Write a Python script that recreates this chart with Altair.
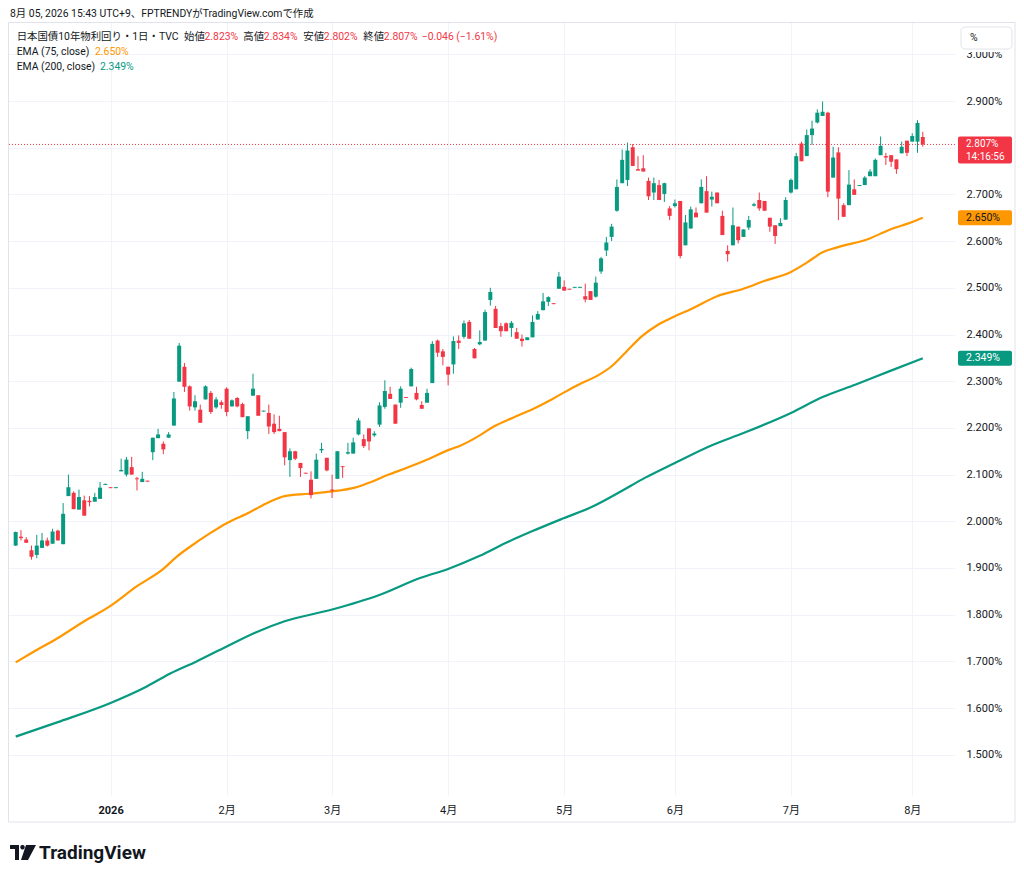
import math
import altair as alt
import pandas as pd

# ---------------- data ----------------
opens = [
    1.948, 1.967, 1.961, 1.938, 1.928, 1.943, 1.959, 1.952, 1.980, 1.951,
    2.054, 2.061, 2.025, 2.045, 2.044, 2.042, 2.048, 2.078, 2.073, 2.071,
    2.107, 2.100, 2.116, 2.092, 2.084, 2.087, 2.148, 2.178, 2.166, 2.179,
    2.205, 2.299, 2.331, 2.289, 2.244, 2.239, 2.261, 2.275, 2.244, 2.255,
    2.284, 2.246, 2.264, 2.251, 2.193, 2.269, 2.270, 2.235, 2.232, 2.209,
    2.198, 2.191, 2.131, 2.150, 2.125, 2.104, 2.089, 2.091, 2.152, 2.136,
    2.068, 2.091, 2.118, 2.145, 2.145, 2.186, 2.176, 2.199, 2.184, 2.207,
    2.245, 2.273, 2.250, 2.254, 2.266, 2.289, 2.275, 2.249, 2.254, 2.296,
    2.387, 2.364, 2.331, 2.336, 2.387, 2.395, 2.427, 2.369, 2.379, 2.387,
    2.474, 2.455, 2.418, 2.424, 2.414, 2.405, 2.391, 2.388, 2.394, 2.432,
    2.452, 2.470, 2.467, 2.498, 2.502, 2.498, 2.500, 2.500, 2.482, 2.493,
    2.481, 2.535, 2.580, 2.609, 2.665, 2.724, 2.731, 2.801, 2.754, 2.756,
    2.729, 2.704, 2.720, 2.701, 2.670, 2.675, 2.686, 2.591, 2.627, 2.661,
    2.681, 2.707, 2.689, 2.704, 2.654, 2.579, 2.591, 2.631, 2.609, 2.629,
    2.676, 2.688, 2.686, 2.650, 2.634, 2.632, 2.646, 2.704, 2.711, 2.809,
    2.782, 2.827, 2.854, 2.868, 2.875, 2.736, 2.790, 2.677, 2.677, 2.711,
    2.718, 2.720, 2.739, 2.739, 2.784, 2.782, 2.784, 2.775, 2.788, 2.815,
    2.813, 2.813, 2.823]
highs = [
    1.978, 1.981, 1.966, 1.948, 1.971, 1.975, 1.965, 1.984, 1.982, 2.039,
    2.100, 2.064, 2.068, 2.055, 2.054, 2.061, 2.084, 2.081, 2.073, 2.073,
    2.134, 2.138, 2.138, 2.095, 2.106, 2.087, 2.179, 2.198, 2.171, 2.191,
    2.277, 2.382, 2.339, 2.291, 2.270, 2.250, 2.291, 2.279, 2.266, 2.259,
    2.287, 2.261, 2.266, 2.254, 2.225, 2.316, 2.270, 2.237, 2.250, 2.229,
    2.226, 2.191, 2.156, 2.151, 2.125, 2.104, 2.107, 2.145, 2.168, 2.136,
    2.100, 2.150, 2.118, 2.168, 2.179, 2.221, 2.186, 2.199, 2.193, 2.255,
    2.302, 2.288, 2.250, 2.289, 2.266, 2.329, 2.288, 2.257, 2.284, 2.386,
    2.389, 2.369, 2.331, 2.396, 2.398, 2.430, 2.431, 2.371, 2.409, 2.453,
    2.500, 2.461, 2.425, 2.426, 2.429, 2.414, 2.400, 2.394, 2.441, 2.450,
    2.489, 2.482, 2.467, 2.534, 2.516, 2.498, 2.502, 2.502, 2.509, 2.493,
    2.524, 2.566, 2.609, 2.637, 2.732, 2.796, 2.811, 2.808, 2.782, 2.784,
    2.736, 2.736, 2.731, 2.725, 2.675, 2.689, 2.686, 2.656, 2.674, 2.672,
    2.732, 2.739, 2.706, 2.704, 2.665, 2.591, 2.672, 2.631, 2.625, 2.654,
    2.682, 2.704, 2.686, 2.650, 2.634, 2.649, 2.694, 2.734, 2.789, 2.813,
    2.839, 2.858, 2.882, 2.899, 2.877, 2.802, 2.801, 2.681, 2.752, 2.732,
    2.720, 2.739, 2.754, 2.777, 2.824, 2.789, 2.784, 2.775, 2.813, 2.815,
    2.831, 2.859, 2.834]
lows = [
    1.947, 1.959, 1.954, 1.918, 1.921, 1.943, 1.946, 1.952, 1.959, 1.951,
    2.054, 2.026, 2.025, 2.012, 2.032, 2.042, 2.048, 2.078, 2.071, 2.071,
    2.107, 2.096, 2.100, 2.066, 2.084, 2.085, 2.131, 2.178, 2.144, 2.179,
    2.205, 2.299, 2.277, 2.237, 2.237, 2.211, 2.261, 2.230, 2.241, 2.241,
    2.225, 2.246, 2.244, 2.223, 2.176, 2.269, 2.226, 2.235, 2.187, 2.187,
    2.193, 2.120, 2.095, 2.131, 2.095, 2.102, 2.049, 2.091, 2.146, 2.107,
    2.050, 2.091, 2.093, 2.143, 2.145, 2.184, 2.157, 2.152, 2.181, 2.202,
    2.241, 2.262, 2.209, 2.243, 2.264, 2.289, 2.259, 2.241, 2.254, 2.296,
    2.352, 2.334, 2.291, 2.316, 2.369, 2.391, 2.391, 2.349, 2.377, 2.387,
    2.462, 2.414, 2.395, 2.407, 2.395, 2.391, 2.374, 2.388, 2.394, 2.432,
    2.452, 2.461, 2.465, 2.498, 2.494, 2.496, 2.500, 2.500, 2.469, 2.474,
    2.479, 2.530, 2.568, 2.600, 2.663, 2.724, 2.718, 2.761, 2.751, 2.749,
    2.688, 2.688, 2.688, 2.684, 2.645, 2.672, 2.563, 2.591, 2.627, 2.651,
    2.681, 2.661, 2.674, 2.681, 2.613, 2.556, 2.591, 2.595, 2.609, 2.624,
    2.674, 2.665, 2.665, 2.620, 2.594, 2.632, 2.646, 2.702, 2.711, 2.771,
    2.782, 2.806, 2.852, 2.868, 2.694, 2.736, 2.645, 2.652, 2.677, 2.699,
    2.718, 2.720, 2.739, 2.739, 2.784, 2.763, 2.759, 2.744, 2.788, 2.782,
    2.813, 2.789, 2.802]
closes = [
    1.977, 1.964, 1.954, 1.924, 1.948, 1.959, 1.948, 1.978, 1.959, 2.016,
    2.073, 2.026, 2.052, 2.012, 2.041, 2.052, 2.072, 2.080, 2.071, 2.073,
    2.110, 2.132, 2.100, 2.090, 2.091, 2.085, 2.179, 2.186, 2.154, 2.186,
    2.263, 2.376, 2.288, 2.246, 2.257, 2.211, 2.289, 2.234, 2.261, 2.249,
    2.234, 2.259, 2.246, 2.223, 2.225, 2.284, 2.226, 2.237, 2.203, 2.191,
    2.193, 2.137, 2.150, 2.134, 2.114, 2.102, 2.056, 2.132, 2.155, 2.109,
    2.066, 2.150, 2.116, 2.148, 2.169, 2.216, 2.161, 2.171, 2.188, 2.248,
    2.279, 2.262, 2.209, 2.284, 2.264, 2.326, 2.261, 2.241, 2.275, 2.380,
    2.361, 2.352, 2.314, 2.386, 2.382, 2.424, 2.391, 2.349, 2.384, 2.448,
    2.491, 2.414, 2.407, 2.407, 2.425, 2.391, 2.386, 2.394, 2.427, 2.444,
    2.471, 2.480, 2.465, 2.524, 2.494, 2.496, 2.502, 2.502, 2.475, 2.474,
    2.511, 2.563, 2.597, 2.631, 2.716, 2.774, 2.794, 2.761, 2.751, 2.749,
    2.696, 2.724, 2.688, 2.724, 2.654, 2.681, 2.568, 2.640, 2.668, 2.651,
    2.716, 2.661, 2.695, 2.681, 2.613, 2.572, 2.634, 2.602, 2.625, 2.645,
    2.679, 2.670, 2.665, 2.631, 2.611, 2.639, 2.688, 2.731, 2.782, 2.771,
    2.827, 2.841, 2.875, 2.877, 2.706, 2.779, 2.691, 2.652, 2.721, 2.699,
    2.720, 2.736, 2.749, 2.774, 2.804, 2.779, 2.770, 2.754, 2.802, 2.789,
    2.825, 2.853, 2.807]
assert len(opens) == len(highs) == len(lows) == len(closes)

month_ticks = [18, 40, 60, 82, 104, 125, 147, 170]
month_labels = ["2026", "2月", "3月", "4月", "5月", "6月", "7月", "8月"]
price_ticks = [1.5, 1.6, 1.7, 1.8, 1.9, 2.0, 2.1, 2.2, 2.3, 2.4, 2.5,
               2.6, 2.7, 2.8, 2.9, 3.0]

ema75_x = [0, 3, 8, 13, 18, 23, 28, 30.5, 33, 36.8, 40, 44.3, 48, 51, 55.5,
           60, 64.3, 67.4, 70.5, 74.3, 77.4, 82.4, 84.3, 88, 90.5, 94.3, 98,
           101.8, 104, 106.8, 110.5, 113, 115.6, 118.7, 121.8, 125, 128, 133,
           138, 141.8, 147, 150, 153, 155.6, 161.8, 165.6, 170, 172]
ema75_y = [1.698, 1.718, 1.750, 1.786, 1.819, 1.861, 1.898, 1.924, 1.945,
           1.974, 1.996, 2.019, 2.041, 2.054, 2.059, 2.064, 2.072, 2.084,
           2.099, 2.115, 2.129, 2.154, 2.162, 2.184, 2.202, 2.222, 2.240,
           2.262, 2.276, 2.293, 2.313, 2.332, 2.361, 2.396, 2.421, 2.439,
           2.454, 2.482, 2.498, 2.514, 2.534, 2.554, 2.576, 2.586, 2.605,
           2.624, 2.641, 2.650]
ema200_x = [0, 8, 18, 24.3, 29.3, 34.3, 40, 45.5, 51, 60, 68.7, 76.8, 82,
            88, 93, 98, 104, 109.3, 114.3, 119.3, 125, 131.8, 138, 147, 153,
            159.3, 165.6, 172]
ema200_y = [1.539, 1.570, 1.611, 1.643, 1.674, 1.700, 1.732, 1.762, 1.786,
            1.811, 1.841, 1.879, 1.898, 1.926, 1.954, 1.979, 2.007, 2.031,
            2.061, 2.093, 2.125, 2.162, 2.189, 2.232, 2.266, 2.293, 2.321,
            2.349]

header_text = "8月 05, 2026 15:43 UTC+9、FPTRENDYがTradingView.comで作成"
symbol_text = "日本国債10年物利回り・1日・TVC"
countdown_text = "14:16:56"

# ---------------- styling ----------------
GREEN = "#089981"
RED = "#F23645"
ORANGE = "#FF9800"
TXT = "#131722"
GRID = "#f0f3fa"
BORDER = "#e0e3eb"
FONT = "Roboto, 'Noto Sans CJK JP', sans-serif"
LEG = 10.4   # legend / header font size

W, H = 947, 773
xs = alt.Scale(domain=[-0.507, 177.16], nice=False, zero=False)
ys = alt.Scale(domain=[1.4139, 3.0692], nice=False, zero=False)

label_arr = "[" + ",".join("'" + s + "'" for s in month_labels) + "]"
tick_arr = "[" + ",".join(str(t) for t in month_ticks) + "]"
x_axis = alt.Axis(
    values=month_ticks,
    labelExpr=label_arr + "[indexof(" + tick_arr + ", datum.value)]",
    grid=True, gridColor=GRID, gridWidth=1, ticks=False, domain=False,
    labelPadding=9, labelFontSize=11, labelColor=TXT, labelFont=FONT,
    labelFontWeight={"condition": {"test": "datum.value == %d" % month_ticks[0],
                                   "value": "bold"}, "value": "normal"},
    title=None,
)
# the scale label hidden behind the last-price tag is left blank, as in TradingView
y_axis = alt.Axis(
    orient="right", values=price_ticks,
    labelExpr="abs(datum.value - %.3f) < 0.03 ? '' : format(datum.value, '.3f') + '%%'"
              % closes[-1],
    grid=True, gridColor=GRID, gridWidth=1, ticks=False, domain=False,
    labelPadding=11, labelFontSize=11, labelColor=TXT, labelFont=FONT,
    title=None,
)


def X(field):
    return alt.X(field, scale=xs, axis=x_axis)


def Y(field):
    return alt.Y(field, scale=ys, axis=y_axis)


cdf = pd.DataFrame({"i": list(range(len(opens))), "o": opens, "h": highs,
                    "l": lows, "c": closes})
cdf["dir"] = ["up" if c >= o else "down" for o, c in zip(opens, closes)]
ccolor = alt.Color("dir:N", scale=alt.Scale(domain=["up", "down"],
                                            range=[GREEN, RED]), legend=None)

wicks = alt.Chart(cdf).mark_rule(strokeWidth=1).encode(
    x=X("i:Q"), y=Y("l:Q"), y2="h:Q", color=ccolor)
bodies = alt.Chart(cdf).mark_bar(size=4).encode(
    x=X("i:Q"), y=Y("o:Q"), y2="c:Q", color=ccolor)

e75 = pd.DataFrame({"i": ema75_x, "v": ema75_y})
e200 = pd.DataFrame({"i": ema200_x, "v": ema200_y})
line75 = alt.Chart(e75).mark_line(color=ORANGE, strokeWidth=2.2,
                                  interpolate="monotone").encode(
    x=X("i:Q"), y=Y("v:Q"))
line200 = alt.Chart(e200).mark_line(color=GREEN, strokeWidth=2.2,
                                    interpolate="monotone").encode(
    x=X("i:Q"), y=Y("v:Q"))

last = pd.DataFrame({"v": [closes[-1]]})
price_line = alt.Chart(last).mark_rule(color=RED, strokeDash=[1, 2],
                                       strokeWidth=1).encode(y=Y("v:Q"))


def tag(val, fill, txtcol, top, bottom, dy=0, size=10.5):
    d = pd.DataFrame({"v": [val], "t": ["%.3f%%" % val]})
    r = alt.Chart(d).mark_rect(cornerRadius=2, yOffset=top, y2Offset=bottom,
                               fill=fill).encode(
        x=alt.value(950), x2=alt.value(1004), y=Y("v:Q"), y2="v:Q")
    t = alt.Chart(d).mark_text(align="left", baseline="middle", color=txtcol,
                               fontSize=size, font=FONT, dy=dy).encode(
        x=alt.value(958), y=Y("v:Q"), text="t:N")
    return [r, t]


def label(txt, px, py, color=TXT, size=LEG, weight="normal"):
    return alt.Chart(alt.Data(values=[{}])).mark_text(
        text=txt, align="left", baseline="middle", color=color,
        fontSize=size, fontWeight=weight, font=FONT).encode(
        x=alt.value(px), y=alt.value(py))


layers = []
# outer frame
layers.append(alt.Chart(alt.Data(values=[{}])).mark_rect(
    fillOpacity=0, stroke=BORDER, strokeWidth=1).encode(
    x=alt.value(0.5), x2=alt.value(1007), y=alt.value(0.5), y2=alt.value(800)))
layers += [price_line, line200, line75, wicks, bodies]

# price tags on the right scale
layers += tag(closes[-1], RED, "white", -8, 19, dy=-0.5, size=10)
layers.append(alt.Chart(last).mark_text(
    align="left", baseline="middle", color="white", fontSize=10, font=FONT,
    dy=12.5, text=countdown_text).encode(x=alt.value(958), y=Y("v:Q")))
layers += tag(ema75_y[-1], ORANGE, TXT, -7.5, 7.5)
layers += tag(ema200_y[-1], GREEN, "white", -7.5, 7.5)

# "%" button (covers the top of the scale like the reference)
layers.append(alt.Chart(alt.Data(values=[{}])).mark_rect(
    fill="white").encode(
    x=alt.value(950), x2=alt.value(1006), y=alt.value(2), y2=alt.value(30)))
layers.append(alt.Chart(alt.Data(values=[{}])).mark_rect(
    fill="white", stroke=BORDER, strokeWidth=1, cornerRadius=4).encode(
    x=alt.value(953), x2=alt.value(1004), y=alt.value(5), y2=alt.value(27)))
layers.append(label("%", 962, 16))

# header / legend
chg = closes[-1] - closes[-2]
pct = chg / closes[-2] * 100
layers.append(label(header_text, 2, -8))
layers.append(label(symbol_text, 8.7, 15))
ohlc = [("始値", opens[-1], 176), ("高値", highs[-1], 235.3),
        ("安値", lows[-1], 295.3), ("終値", closes[-1], 355.3)]
for name, val, px in ohlc:
    layers.append(label(name, px, 15))
    layers.append(label("%.3f%%" % val, px + 20.5, 15, color=RED))
layers.append(label("\u2212%.3f (\u2212%.2f%%)" % (abs(chg), abs(pct)),
                    413.7, 15, color=RED))
layers.append(label("EMA (75, close)", 8.7, 29.7))
layers.append(label("%.3f%%" % ema75_y[-1], 87, 29.7, color=ORANGE))
layers.append(label("EMA (200, close)", 8.7, 44.7))
layers.append(label("%.3f%%" % ema200_y[-1], 92, 44.7, color=GREEN))


# TradingView logo
def P(x, y):
    return "%.3f,%.3f" % (x / 13.0, y / 13.0)


logo_t = "M" + " L".join(P(*p) for p in [(-13, -7.5), (-4, -7.5), (-4, 7.5),
                                         (-8, 7.5), (-8, -3.5), (-13, -3.5)]) + " Z"
dot = [(-0.5 + 2.3 * math.cos(k * math.pi / 5), -5.3 + 2.3 * math.sin(k * math.pi / 5))
       for k in range(10)]
logo_dot = "M" + " L".join(P(*p) for p in dot) + " Z"
logo_slant = "M" + " L".join(P(*p) for p in [(3, -7.5), (13, -7.5), (5, 7.5),
                                             (-2, 7.5)]) + " Z"
layers.append(alt.Chart(alt.Data(values=[{}])).mark_point(
    shape=logo_t + " " + logo_dot + " " + logo_slant, size=676, filled=True,
    fill=TXT, strokeWidth=0, opacity=1).encode(
    x=alt.value(15), y=alt.value(830.5)))
layers.append(label("TradingView", 31, 830.5, size=19, weight="bold"))

chart = alt.layer(*layers).properties(
    width=W, height=H,
    autosize=alt.AutoSizeParams(type="none"),
    padding={"left": 0, "top": 14, "right": 61, "bottom": 70},
    background="white",
).configure_view(strokeWidth=0)

chart.save("out.html", embed_options={"renderer": "svg", "actions": False})
